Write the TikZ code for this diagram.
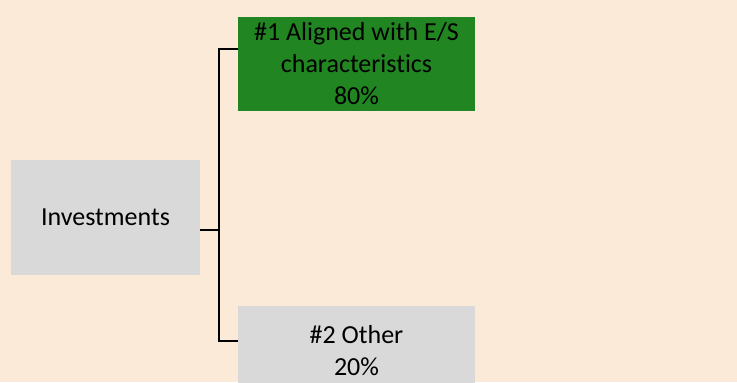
\documentclass[tikz,border=0pt]{standalone}
\usepackage{fontspec}
\setmainfont{Carlito}[Ligatures={NoCommon}]
\usetikzlibrary{positioning,calc}
\definecolor{esbg}{HTML}{FBEAD7}
\definecolor{esgreen}{HTML}{218521}
\definecolor{esgrey}{HTML}{D9D9D9}
\definecolor{esink}{HTML}{000000}
\tikzset{
  bx/.style={align=center, font=\fontsize{14.8}{18.2}\selectfont, inner sep=0pt, text=esink},
  grp/.style={bx, fill=esgrey},
  aln/.style={bx, fill=esgreen},
  tree/.style={draw=esink, line width=1.2pt},
}
\begin{document}
\begin{tikzpicture}
      \fill[esbg] (0,0) rectangle (14.74,7.64);
      \useasboundingbox (0,0) rectangle (14.74,7.64);
      \clip (0,0) rectangle (14.74,7.64);
      \node[grp, minimum width=3.78cm, minimum height=2.30cm] (inv) at (2.11,3.29) {Investments};
      \node[aln, minimum width=4.74cm, minimum height=1.88cm] (aligned) at (7.13,6.36) {\#1 Aligned with E/S\\characteristics\\80\%};
      \node[grp, minimum width=4.74cm, minimum height=1.80cm] (other) at (7.13,0.62) {\#2 Other\\20\%};
      \coordinate (jn) at (4.38,3.04);
      \draw[tree] (inv.east |- jn) -- (jn);
      \draw[tree] ([yshift=0.30cm]aligned.west) -| (jn) |- ([yshift=0.20cm]other.west);
    \end{tikzpicture}
\end{document}
